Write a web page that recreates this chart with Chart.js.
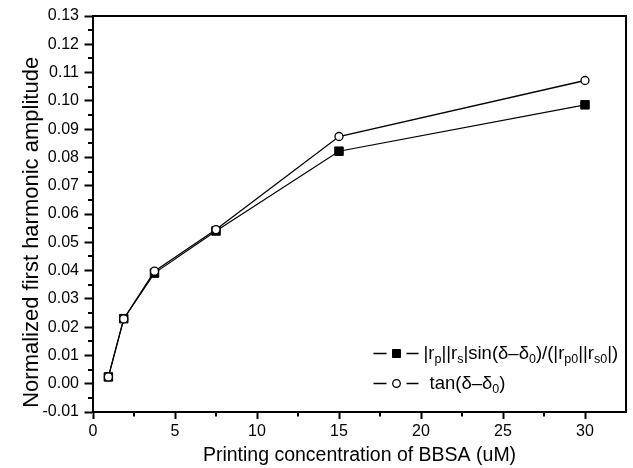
<!DOCTYPE html>
<html><head><meta charset="utf-8">
<script src="https://cdn.jsdelivr.net/npm/chart.js@4/dist/chart.umd.min.js"></script>
<style>html,body{margin:0;padding:0;background:#fff}#wrap{width:633px;height:468px;position:relative}</style>
</head><body><div id="wrap"><canvas id="c" width="633" height="468"></canvas></div>
<script>
// ---- data ----
const concentrations = [0.9375, 1.875, 3.75, 7.5, 15, 30];
const ratioValues = [0.0024, 0.0230, 0.0391, 0.0540, 0.0822, 0.0986];
const tanValues   = [0.0024, 0.0229, 0.0398, 0.0545, 0.0874, 0.1072];
const xTickValues = [0, 5, 10, 15, 20, 25, 30];
const xTickLabels = ['0', '5', '10', '15', '20', '25', '30'];
const yTickValues = [-0.01, 0, 0.01, 0.02, 0.03, 0.04, 0.05, 0.06, 0.07, 0.08, 0.09, 0.10, 0.11, 0.12, 0.13];
const yTickLabels = ['-0.01', '0.00', '0.01', '0.02', '0.03', '0.04', '0.05', '0.06', '0.07', '0.08', '0.09', '0.10', '0.11', '0.12', '0.13'];
const xTitle = 'Printing concentration of BBSA (uM)';
const yTitle = 'Normalized first harmonic amplitude';
// legend labels: [text, isSubscript]
const ratioLabel = [['|r', 0], ['p', 1], ['||r', 0], ['s', 1], ['|sin(\u03b4\u2013\u03b4', 0], ['0', 1], [')/(|r', 0], ['p0', 1], ['||r', 0], ['s0', 1], ['|)', 0]];
const tanLabel = [['tan(\u03b4\u2013\u03b4', 0], ['0', 1], [')', 0]];

const FONT = "'Liberation Sans', Arial, Helvetica, sans-serif";
Chart.defaults.color = '#000';
Chart.defaults.font.family = FONT;

const frameAndMinor = {
  id: 'frameAndMinor',
  afterDraw(chart) {
    const ctx = chart.ctx, a = chart.chartArea;
    const xs = chart.scales.x, ys = chart.scales.y;
    ctx.save();
    ctx.strokeStyle = '#000';
    ctx.lineWidth = 2;
    ctx.beginPath();
    ctx.moveTo(a.left, a.top); ctx.lineTo(a.right, a.top); ctx.lineTo(a.right, a.bottom);
    ctx.stroke();
    // minor ticks
    ctx.beginPath();
    for (let i = 0; i < yTickValues.length - 1; i++) {
      const v = (yTickValues[i] + yTickValues[i + 1]) / 2;
      const py = Math.round(ys.getPixelForValue(v));
      ctx.moveTo(a.left, py); ctx.lineTo(a.left - 5, py);
    }
    for (let i = 0; i < xTickValues.length - 1; i++) {
      const v = (xTickValues[i] + xTickValues[i + 1]) / 2;
      const px = Math.round(xs.getPixelForValue(v));
      ctx.moveTo(px, a.bottom); ctx.lineTo(px, a.bottom + 4.5);
    }
    ctx.stroke();
    ctx.restore();
  }
};

const legendPlugin = {
  id: 'subLegend',
  afterDraw(chart) {
    const ctx = chart.ctx;
    const rows = [
      { ds: chart.data.datasets[0], parts: ratioLabel, y: 358.5, tx: 423.5 },
      { ds: chart.data.datasets[1], parts: tanLabel, y: 388.5, tx: 429.5 }
    ];
    const cx = 396.5;
    ctx.save();
    rows.forEach(r => {
      const my = r.y - 5;
      ctx.strokeStyle = r.ds.borderColor;
      ctx.lineWidth = 1.3;
      ctx.beginPath();
      ctx.moveTo(cx - 23, my); ctx.lineTo(cx - 10, my);
      ctx.moveTo(cx + 10, my); ctx.lineTo(cx + 22, my);
      ctx.stroke();
      ctx.fillStyle = r.ds.pointBackgroundColor;
      ctx.strokeStyle = r.ds.pointBorderColor;
      ctx.lineWidth = r.ds.pointBorderWidth;
      ctx.beginPath();
      if (r.ds.pointStyle === 'rect') {
        ctx.rect(cx - 4, my - 4, 8, 8);
      } else {
        ctx.arc(cx, my, 3.8, 0, Math.PI * 2);
      }
      ctx.fill(); ctx.stroke();
      let x = r.tx;
      ctx.fillStyle = '#000';
      ctx.textBaseline = 'alphabetic';
      ctx.textAlign = 'left';
      r.parts.forEach(([t, sub]) => {
        ctx.font = (sub ? '12.5px ' : '18.5px ') + FONT;
        ctx.fillText(t, x, r.y + (sub ? 4.5 : 0));
        x += ctx.measureText(t).width;
      });
    });
    ctx.restore();
  }
};

const ctx = document.getElementById('c').getContext('2d');
new Chart(ctx, {
  type: 'line',
  data: {
    datasets: [
      {
        label: 'ratio',
        data: concentrations.map((x, i) => ({ x, y: ratioValues[i] })),
        borderColor: '#000', borderWidth: 1.2,
        pointStyle: 'rect', pointRadius: 6, pointHoverRadius: 6,
        pointBackgroundColor: '#000', pointBorderColor: '#000', pointBorderWidth: 1,
        tension: 0, fill: false, order: 1
      },
      {
        label: 'tan',
        data: concentrations.map((x, i) => ({ x, y: tanValues[i] })),
        borderColor: '#000', borderWidth: 1.3,
        pointStyle: 'circle', pointRadius: 4, pointHoverRadius: 4,
        pointBackgroundColor: '#fff', pointBorderColor: '#000', pointBorderWidth: 1.3,
        tension: 0, fill: false, order: 0
      }
    ]
  },
  options: {
    responsive: false,
    animation: false,
    devicePixelRatio: 1,
    layout: { padding: { left: 0, right: 4.5, top: 16, bottom: 0 } },
    plugins: { legend: { display: false }, tooltip: { enabled: false } },
    scales: {
      x: {
        type: 'linear', min: 0, max: 32.5,
        afterBuildTicks: s => { s.ticks = xTickValues.map(v => ({ value: v })); },
        afterFit: s => { s.height = 56; },
        ticks: {
          autoSkip: false, maxRotation: 0, padding: 3,
          font: { size: 16, family: FONT }, color: '#000',
          callback: (v, i) => xTickLabels[i]
        },
        grid: { display: true, drawOnChartArea: false, drawTicks: true, tickLength: 7, tickWidth: 2, tickColor: '#000', color: '#000' },
        border: { display: true, color: '#000', width: 2 },
        title: { display: true, text: xTitle, color: '#000', font: { size: 19.5, family: FONT }, padding: { top: 0, bottom: 0.5 } }
      },
      y: {
        type: 'linear', min: -0.01, max: 0.13,
        afterBuildTicks: s => { s.ticks = yTickValues.map(v => ({ value: v })); },
        afterFit: s => { s.width = 93; },
        ticks: {
          autoSkip: false, padding: 5.5,
          font: { size: 16, family: FONT }, color: '#000',
          callback: (v, i) => yTickLabels[i]
        },
        grid: { display: true, drawOnChartArea: false, drawTicks: true, tickLength: 8.5, tickWidth: 2, tickColor: '#000', color: '#000' },
        border: { display: true, color: '#000', width: 2 },
        title: { display: true, text: yTitle + '\u00a0\u00a0\u00a0\u00a0\u00a0\u00a0', color: '#000', font: { size: 22, family: FONT }, padding: { top: 18.8, bottom: 0 } }
      }
    }
  },
  plugins: [frameAndMinor, legendPlugin]
});
</script>
</body></html>
